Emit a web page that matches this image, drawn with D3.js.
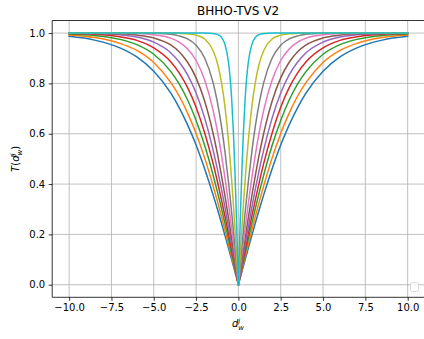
<!DOCTYPE html>
<html>
<head>
<meta charset="utf-8">
<script src="https://cdn.jsdelivr.net/npm/d3@7"></script>
<style>
  html, body { margin: 0; padding: 0; background: #fff; }
  svg { display: block; }
  text { font-family: "DejaVu Sans", sans-serif; }
</style>
</head>
<body>
<svg id="chart" width="424" height="339"></svg>
<script>
// ---- data (curves are symmetric about 0) ----
const title = "BHHO-TVS V2";
const xSamples = [0, 0.1, 0.2, 0.3, 0.4, 0.5, 0.6, 0.8, 1.0, 1.25, 1.5, 2, 2.5, 3, 3.5, 4, 5, 6, 7, 8.5, 10];
const seriesBlue   = [0, .025, .050, .075, .100, .124, .149, .197, .245, .303, .358, .462, .555, .635, .704, .762, .848, .905, .941, .972, .987];
const seriesOrange = [0, .028, .056, .083, .111, .138, .165, .218, .271, .334, .394, .505, .601, .682, .750, .804, .883, .931, .959, .982, .992];
const seriesGreen  = [0, .031, .062, .093, .124, .155, .185, .245, .303, .372, .437, .555, .653, .734, .798, .848, .916, .954, .975, .990, .996];
const seriesRed    = [0, .035, .070, .105, .139, .173, .208, .274, .337, .413, .483, .605, .705, .783, .842, .886, .941, .971, .985, .995, .998];
const seriesPurple = [0, .040, .080, .119, .159, .197, .235, .310, .380, .462, .537, .664, .762, .834, .885, .922, .964, .984, .993, .998, .999];
const seriesBrown  = [0, .046, .093, .139, .184, .229, .272, .356, .434, .524, .603, .731, .822, .884, .926, .953, .981, .992, .997, .999, 1.0];
const seriesPink   = [0, .057, .114, .170, .225, .278, .330, .428, .516, .613, .695, .815, .891, .937, .964, .980, .993, .998, .999, 1.0, 1.0];
const seriesGray   = [0, .074, .147, .218, .288, .354, .417, .532, .630, .729, .804, .902, .952, .977, .989, .995, .999, 1.0, 1.0, 1.0, 1.0];
const seriesOlive  = [0, .111, .218, .322, .417, .505, .583, .711, .804, .883, .931, .977, .992, .997, .999, 1.0, 1.0, 1.0, 1.0, 1.0, 1.0];
const seriesCyan   = [0, .234, .443, .613, .741, .831, .891, .956, .983, .995, .998, 1.0, 1.0, 1.0, 1.0, 1.0, 1.0, 1.0, 1.0, 1.0, 1.0];
const allSeries = [seriesBlue, seriesOrange, seriesGreen, seriesRed, seriesPurple,
                   seriesBrown, seriesPink, seriesGray, seriesOlive, seriesCyan];
const colors = ["#1f77b4", "#ff7f0e", "#2ca02c", "#d62728", "#9467bd",
                "#8c564b", "#e377c2", "#7f7f7f", "#bcbd22", "#17becf"];
const xTicks = [-10, -7.5, -5, -2.5, 0, 2.5, 5, 7.5, 10];
const yTicks = [0, 0.2, 0.4, 0.6, 0.8, 1.0];

// ---- layout ----
const svg = d3.select("#chart");
const L = 52.2, R = 424.6, T = 20.5, B = 297.3;
const x = d3.scaleLinear().domain([-11, 11]).range([L, R]);
const y = d3.scaleLinear().domain([-0.05, 1.05]).range([B, T]);
const fmt = v => (v < 0 ? "\u2212" : "") + Math.abs(v).toFixed(1);

svg.append("defs").append("clipPath").attr("id", "clip")
  .append("rect").attr("x", L).attr("y", T).attr("width", R - L).attr("height", B - T);

// grid
const grid = svg.append("g");
xTicks.forEach(t => grid.append("line")
  .attr("x1", x(t)).attr("x2", x(t)).attr("y1", T).attr("y2", B)
  .attr("stroke", "#b0b0b0").attr("stroke-width", 0.8));
yTicks.forEach(t => grid.append("line")
  .attr("x1", L).attr("x2", R).attr("y1", y(t)).attr("y2", y(t))
  .attr("stroke", "#b0b0b0").attr("stroke-width", 0.8));

// lines
const line = d3.line().x(d => x(d[0])).y(d => y(d[1])).curve(d3.curveMonotoneX);
const gLines = svg.append("g").attr("clip-path", "url(#clip)");
allSeries.forEach((s, i) => {
  const right = xSamples.map((xv, j) => [xv, s[j]]);
  const left = xSamples.map((xv, j) => [-xv, s[j]]).reverse();
  gLines.append("path")
    .attr("d", line(left) + line(right))
    .attr("fill", "none")
    .attr("stroke", colors[i])
    .attr("stroke-width", 1.5)
    .attr("stroke-linejoin", "round")
    .attr("stroke-linecap", "square");
});

// axes
const xAxis = d3.axisBottom(x).tickValues(xTicks).tickSize(3.5).tickPadding(3.5).tickFormat(fmt);
const yAxis = d3.axisLeft(y).tickValues(yTicks).tickSize(3.5).tickPadding(3.5).tickFormat(fmt);
const gx = svg.append("g").attr("transform", `translate(0,${B})`).call(xAxis);
const gy = svg.append("g").attr("transform", `translate(${L},0)`).call(yAxis);
[gx, gy].forEach(g => {
  g.select(".domain").remove();
  g.selectAll("line").attr("stroke", "#000").attr("stroke-width", 0.8);
  g.selectAll("text").attr("font-size", 10).attr("fill", "#000")
    .attr("font-family", "DejaVu Sans, sans-serif");
});

// spines
const sp = svg.append("g").attr("stroke", "#000").attr("stroke-width", 0.8).attr("fill", "none");
sp.append("line").attr("x1", L).attr("x2", L).attr("y1", T).attr("y2", B);
sp.append("line").attr("x1", L).attr("x2", R).attr("y1", B).attr("y2", B);
sp.append("line").attr("x1", L).attr("x2", R).attr("y1", T).attr("y2", T);
sp.append("line").attr("x1", R).attr("x2", R).attr("y1", T).attr("y2", B);

// empty legend frame
svg.append("rect").attr("x", 410.5).attr("y", 282.5).attr("width", 8).attr("height", 9)
  .attr("rx", 2).attr("fill", "#fff").attr("fill-opacity", 0.8)
  .attr("stroke", "#d0d0d0").attr("stroke-width", 0.8);

// title
svg.append("text").attr("x", 238).attr("y", 15).attr("text-anchor", "middle")
  .attr("font-size", 12).text(title);

// x label  d_w^j
const xl = svg.append("text").attr("x", 238).attr("y", 327).attr("text-anchor", "middle")
  .attr("font-size", 10).attr("font-style", "italic");
xl.append("tspan").text("d");
xl.append("tspan").attr("dy", -4).attr("font-size", 7).text("j");
xl.append("tspan").attr("dx", -2).attr("dy", 7).attr("font-size", 7).text("w");

// y label  T(d_w^j)
const yl = svg.append("text").attr("transform", `translate(19,${(T + B) / 2}) rotate(-90)`)
  .attr("text-anchor", "middle").attr("font-size", 10);
yl.append("tspan").attr("font-style", "italic").text("T");
yl.append("tspan").text("(");
yl.append("tspan").attr("font-style", "italic").text("d");
yl.append("tspan").attr("font-style", "italic").attr("dy", -4).attr("font-size", 7).text("j");
yl.append("tspan").attr("font-style", "italic").attr("dx", -2).attr("dy", 7).attr("font-size", 7).text("w");
yl.append("tspan").attr("dy", -3).text(")");
</script>
</body>
</html>
